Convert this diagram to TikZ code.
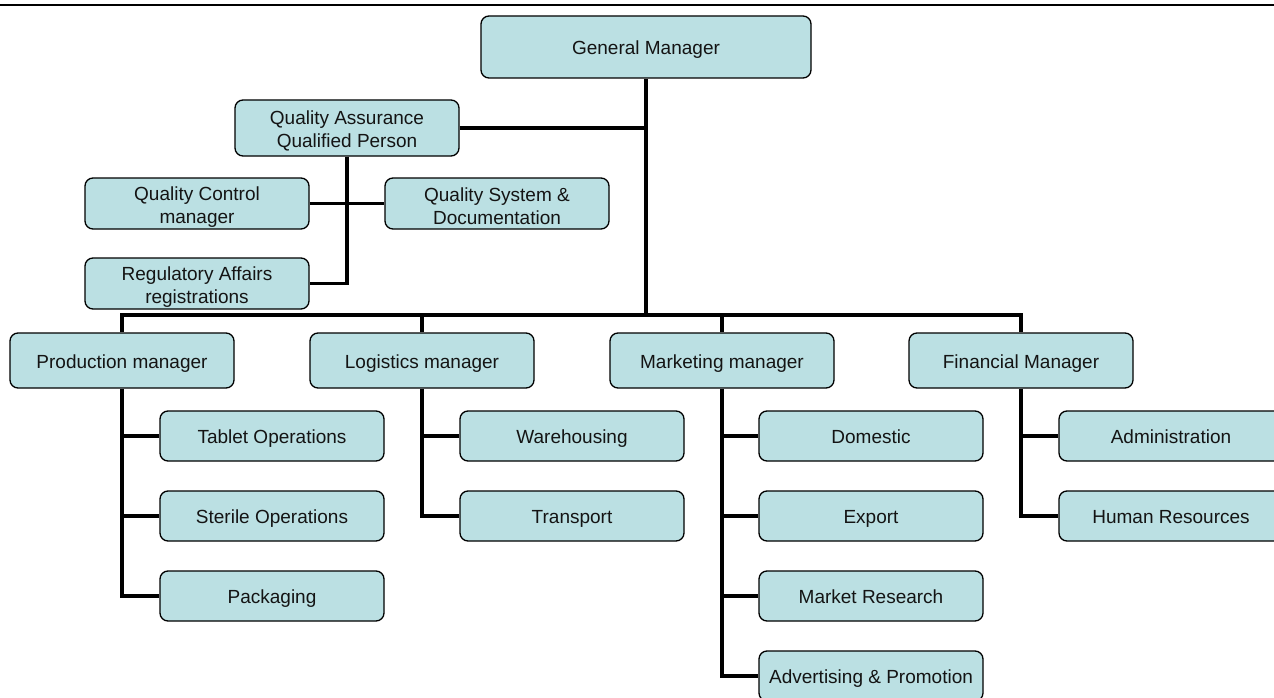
\documentclass[tikz,border=0pt]{standalone}
\usepackage{fontspec}
\setmainfont{Liberation Sans}
\definecolor{boxfill}{RGB}{187,224,227}
\definecolor{txt}{RGB}{20,20,20}
\newcommand{\tallfirst}{\rule{0pt}{20pt}}
\begin{document}
\begin{tikzpicture}[x=1pt,y=-1pt,
  orgbox/.style={draw=black,line width=1.3pt,fill=boxfill,rounded corners=8pt,
    minimum width=224pt,minimum height=51pt,inner sep=0pt,align=center,
    text height=15pt,text depth=0pt,
    text=txt,font=\fontsize{19}{23}\selectfont},
  twoline/.style={text height={},text depth={}},
  conn/.style={line width=3.6pt,draw=black}]
\useasboundingbox (0,0) rectangle (1274,698);
\clip (0,0) rectangle (1274,698);
\fill[white] (0,0) rectangle (1274,698);
\draw[line width=2.2pt] (0,5) -- (1274,5);

% nodes
\node[orgbox,minimum width=330pt,minimum height=62pt] (gm) at (646,47) {General Manager};
\node[orgbox,twoline,minimum height=56pt] (qa) at (347,128) {\tallfirst Quality Assurance\\Qualified Person};
\node[orgbox,twoline] (qc) at (197,203.5) {\tallfirst Quality Control\\manager};
\node[orgbox,twoline] (qs) at (497,203.5) {\tallfirst Quality System \&\\Documentation};
\node[orgbox,twoline] (ra) at (197,283.5) {\tallfirst Regulatory Affairs\\registrations};

\node[orgbox,minimum height=55pt] (pm) at (122,360.5) {Production manager};
\node[orgbox,minimum height=55pt] (lm) at (422,360.5) {Logistics manager};
\node[orgbox,minimum height=55pt] (mm) at (722,360.5) {Marketing manager};
\node[orgbox,minimum height=55pt] (fm) at (1021,360.5) {Financial Manager};

\node[orgbox,minimum height=50pt] (tab) at (272,436) {Tablet Operations};
\node[orgbox,minimum height=50pt] (ste) at (272,516) {Sterile Operations};
\node[orgbox,minimum height=50pt] (pak) at (272,596) {Packaging};

\node[orgbox,minimum height=50pt] (war) at (572,436) {Warehousing};
\node[orgbox,minimum height=50pt] (tra) at (572,516) {Transport};

\node[orgbox,minimum height=50pt] (dom) at (871,436) {Domestic};
\node[orgbox,minimum height=50pt] (exp) at (871,516) {Export};
\node[orgbox,minimum height=50pt] (mre) at (871,596) {Market Research};
\node[orgbox,minimum height=50pt] (adv) at (871,676) {Advertising \& Promotion};

\node[orgbox,minimum height=50pt] (adm) at (1171,436) {Administration};
\node[orgbox,minimum height=50pt] (hr) at (1171,516) {Human Resources};

\coordinate (bus) at (0,315);

% connectors
\draw[conn] (gm.south) -- (gm.south |- bus);
\draw[conn] (qa.east) -- (qa.east -| gm.south);
\draw[conn] (qa.south) |- (ra.east);
\draw[conn] (qc.east) -- (qs.west);
\draw[conn] (pm.north) -- (pm.north |- bus) -- (fm.north |- bus) -- (fm.north);
\draw[conn] (lm.north) -- (lm.north |- bus);
\draw[conn] (mm.north) -- (mm.north |- bus);

\draw[conn] (pm.south) |- (pak.west);
\draw[conn] (pm.south |- tab.west) -- (tab.west);
\draw[conn] (pm.south |- ste.west) -- (ste.west);

\draw[conn] (lm.south) |- (tra.west);
\draw[conn] (lm.south |- war.west) -- (war.west);

\draw[conn] (mm.south) |- (adv.west);
\draw[conn] (mm.south |- dom.west) -- (dom.west);
\draw[conn] (mm.south |- exp.west) -- (exp.west);
\draw[conn] (mm.south |- mre.west) -- (mre.west);

\draw[conn] (fm.south) |- (hr.west);
\draw[conn] (fm.south |- adm.west) -- (adm.west);
\end{tikzpicture}
\end{document}
